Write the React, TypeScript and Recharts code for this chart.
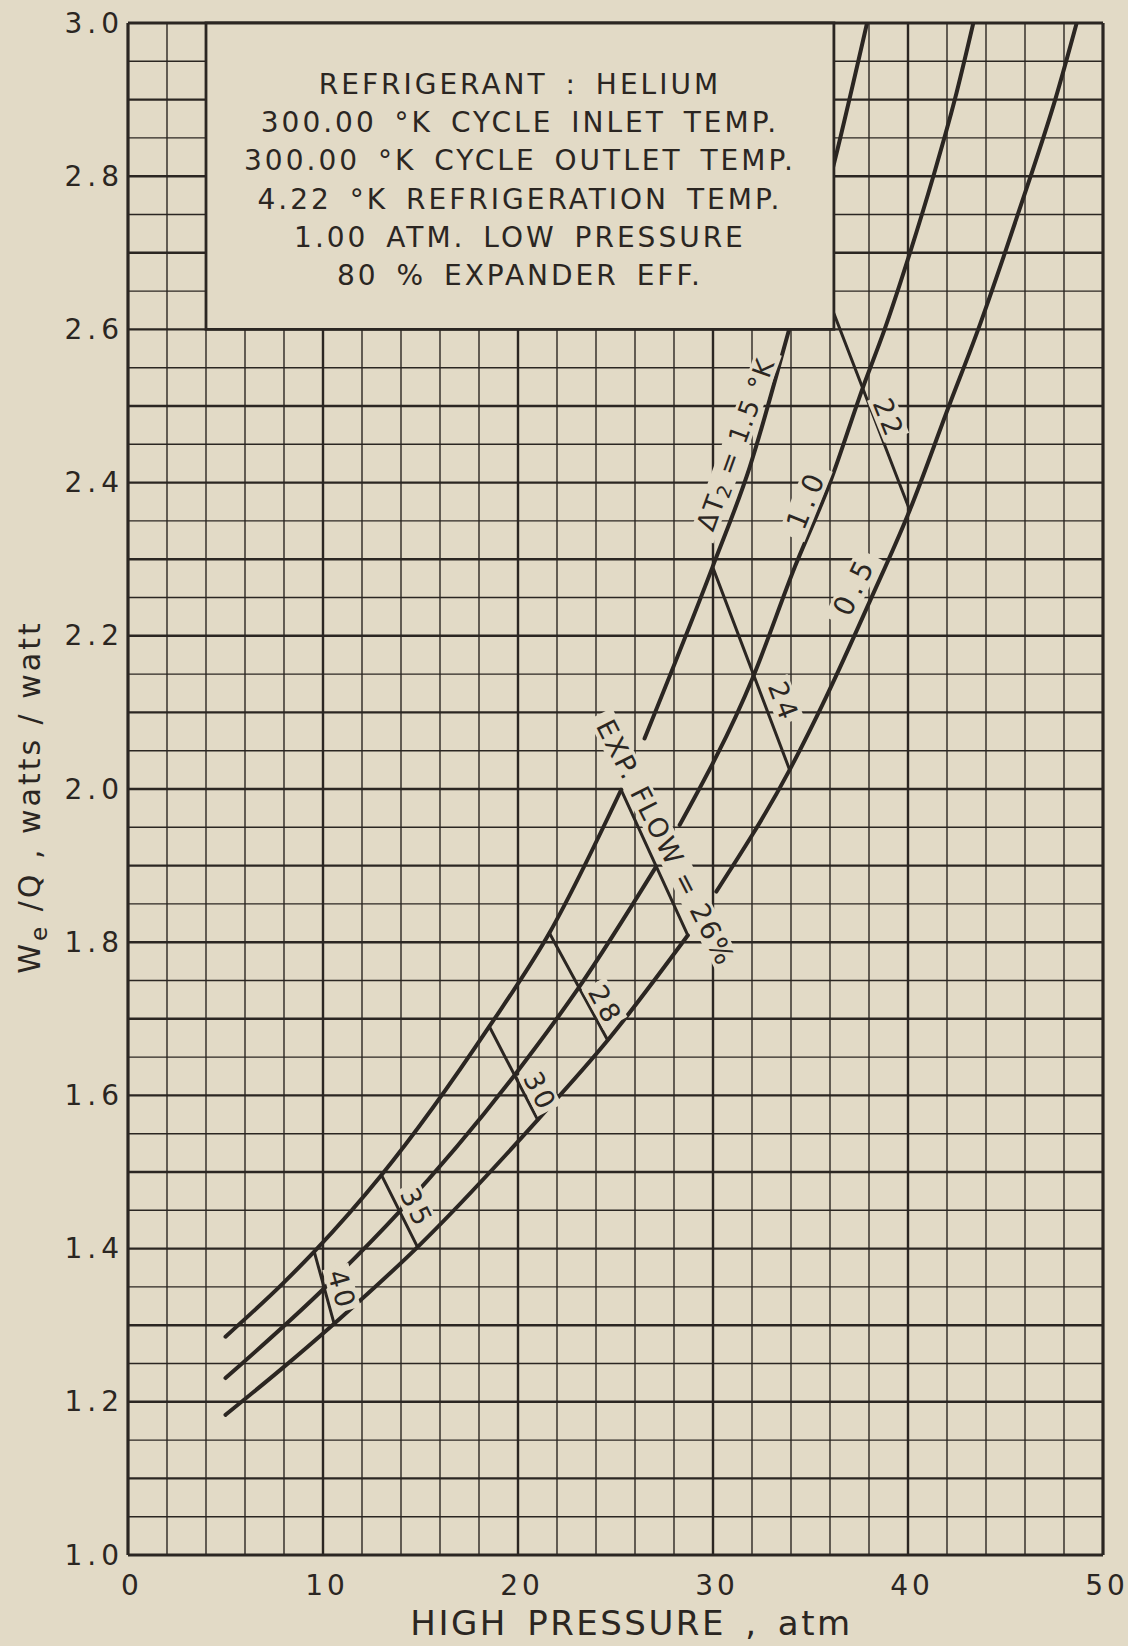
import React from "react";
import {
  ComposedChart,
  Line,
  XAxis,
  YAxis,
  ReferenceLine,
  ReferenceArea,
  ReferenceDot,
} from "recharts";

const FONT = '"DejaVu Sans", sans-serif';
const INK = "#2b2622";
const PAPER = "#e2dac6";

// axis ticks
const xTickValues = [0, 10, 20, 30, 40, 50];
const yTickValues = [1.0, 1.2, 1.4, 1.6, 1.8, 2.0, 2.2, 2.4, 2.6, 2.8, 3.0];

// graph paper rulings (every 2 atm, every 0.05)
const xRulings = Array.from({ length: 26 }, (_, i) => i * 2);
const yRulings = Array.from({ length: 41 }, (_, i) => Math.round((1 + i * 0.05) * 100) / 100);

// dT2 = 1.5 K curve (broken by the EXP. FLOW label)
const dt15LoX = [5, 7.92, 9.55, 13.0, 18.53, 21.61, 25.29];
const dt15LoY = [1.285, 1.354, 1.396, 1.496, 1.69, 1.812, 1.999];
const dt15HiX = [26.49, 29.98, 31.88, 33.85, 36.24, 37.9];
const dt15HiY = [2.066, 2.29, 2.42, 2.595, 2.82, 3.0];

// dT2 = 1.0 K curve
const dt10LoX = [5, 9.97, 13.91, 19.9, 23.15, 27.09];
const dt10LoY = [1.231, 1.346, 1.448, 1.629, 1.742, 1.899];
const dt10HiX = [28.29, 32.05, 34.2, 36.0, 37.7, 38.8, 40.1, 41.3, 42.4, 43.35];
const dt10HiY = [1.953, 2.146, 2.29, 2.4, 2.525, 2.6, 2.7, 2.8, 2.9, 3.0];

// dT2 = 0.5 K curve
const dt05LoX = [5, 7.92, 10.57, 14.85, 21.01, 24.6, 28.71];
const dt05LoY = [1.183, 1.244, 1.302, 1.402, 1.568, 1.672, 1.809];
const dt05HiX = [30.17, 33.93, 35.8, 38.04, 40.09, 42.1, 43.6, 44.97, 46.29, 47.55, 48.65];
const dt05HiY = [1.866, 2.025, 2.12, 2.245, 2.364, 2.5, 2.6, 2.7, 2.8, 2.9, 3.0];

// constant expander flow lines (%), from the 1.5 curve down to the 0.5 curve
const flowPct = [40, 35, 30, 28, 26, 24, 22];
const flowTopX = [9.55, 13.0, 18.53, 21.61, 25.29, 29.98, 35.0];
const flowTopY = [1.396, 1.496, 1.69, 1.812, 1.999, 2.29, 2.7];
const flowBotX = [10.57, 14.85, 21.01, 24.6, 28.71, 33.93, 40.09];
const flowBotY = [1.302, 1.402, 1.568, 1.672, 1.809, 2.025, 2.364];

const boxLines = [
  "REFRIGERANT : HELIUM",
  "300.00 °K CYCLE INLET TEMP.",
  "300.00 °K CYCLE OUTLET TEMP.",
  "4.22 °K REFRIGERATION TEMP.",
  "1.00 ATM. LOW PRESSURE",
  "80 % EXPANDER EFF.",
];

const pts = (xs: number[], ys: number[]) => xs.map((x, i) => ({ x, y: ys[i] }));

type Tag = {
  x: number;
  y: number;
  angle: number;
  text: React.ReactNode;
  len: number;
  fs?: number;
  ls?: number;
};

const tags: Tag[] = [
  { x: 10.95, y: 1.348, angle: 74, text: "40", len: 2 },
  { x: 14.77, y: 1.455, angle: 64, text: "35", len: 2 },
  { x: 21.1, y: 1.607, angle: 63, text: "30", len: 2 },
  { x: 24.44, y: 1.72, angle: 61, text: "28", len: 2 },
  { x: 27.55, y: 1.931, angle: 63, text: "EXP. FLOW = 26%", len: 15, fs: 27, ls: 2 },
  { x: 33.59, y: 2.116, angle: 69, text: "24", len: 2 },
  { x: 38.98, y: 2.486, angle: 68, text: "22", len: 2 },
  {
    x: 31.15,
    y: 2.449,
    angle: -70,
    text: (
      <>
        ΔT
        <tspan dy={5} fontSize={19}>
          2
        </tspan>
        <tspan dy={-5}> = 1.5 °K</tspan>
      </>
    ),
    len: 11,
    fs: 26,
    ls: 1.5,
  },
  { x: 34.75, y: 2.375, angle: -68, text: "1.0", len: 3, fs: 28, ls: 6 },
  { x: 37.2, y: 2.262, angle: -64, text: "0.5", len: 3, fs: 28, ls: 6 },
];

const tagShape = (t: Tag) => (p: any) => {
  const fs = t.fs ?? 27;
  const ls = t.ls ?? 3;
  const w = t.len * (fs * 0.62 + ls) + 6;
  return (
    <g transform={`translate(${p.cx},${p.cy}) rotate(${t.angle})`}>
      <rect x={-w / 2} y={-fs * 0.5} width={w} height={fs} fill={PAPER} />
      <text
        x={ls / 2}
        y={0}
        textAnchor="middle"
        dominantBaseline="central"
        fontSize={fs}
        letterSpacing={ls}
        fill={INK}
        fontFamily={FONT}
      >
        {t.text}
      </text>
    </g>
  );
};

const YTick = (p: any) => (
  <text
    x={p.x - 4}
    y={p.y}
    textAnchor="end"
    dominantBaseline="central"
    fontSize={28}
    letterSpacing={5}
    fill={INK}
    fontFamily={FONT}
  >
    {Number(p.payload.value).toFixed(1)}
  </text>
);

const XTick = (p: any) => (
  <text
    x={p.x + 4}
    y={p.y + 30}
    textAnchor="middle"
    dominantBaseline="central"
    fontSize={28}
    letterSpacing={4}
    fill={INK}
    fontFamily={FONT}
  >
    {p.payload.value}
  </text>
);

const XTitle = (p: any) => {
  const vb = p.viewBox;
  return (
    <text
      x={vb.x + vb.width / 2 + 16}
      y={vb.y + 80}
      textAnchor="middle"
      fontSize={34}
      letterSpacing={2.5}
      wordSpacing={6}
      fill={INK}
      fontFamily={FONT}
    >
      HIGH PRESSURE , atm
    </text>
  );
};

const YTitle = (p: any) => {
  const vb = p.viewBox;
  const cx = vb.x + 12;
  const cy = vb.y + vb.height / 2 + 8;
  return (
    <text
      transform={`rotate(-90 ${cx} ${cy})`}
      x={cx}
      y={cy}
      textAnchor="middle"
      fontSize={30}
      letterSpacing={3}
      fill={INK}
      fontFamily={FONT}
    >
      W
      <tspan dy={7} fontSize={23}>
        e
      </tspan>
      <tspan dy={-7}> /Q , watts / watt</tspan>
    </text>
  );
};

const BoxText = (p: any) => {
  const vb = p.viewBox;
  const cx = vb.x + vb.width / 2;
  return (
    <g>
      {boxLines.map((s, i) => (
        <text
          key={s}
          x={cx}
          y={vb.y + 71 + i * 38.2}
          textAnchor="middle"
          fontSize={28}
          letterSpacing={3}
          wordSpacing={6}
          fill={INK}
          fontFamily={FONT}
        >
          {s}
        </text>
      ))}
    </g>
  );
};

const curve = (xs: number[], ys: number[], key: string) => (
  <Line
    key={key}
    data={pts(xs, ys)}
    dataKey="y"
    type="monotone"
    stroke={INK}
    strokeWidth={4}
    strokeLinecap="round"
    dot={false}
    activeDot={false}
    isAnimationActive={false}
    zIndex={400}
  />
);

export default function App() {
  return (
    <div
      style={{
        position: "absolute",
        left: 0,
        top: 0,
        width: 1128,
        height: 1646,
        background: PAPER,
      }}
    >
      <ComposedChart
        width={1128}
        height={1646}
        margin={{ top: 23, right: 25, bottom: 31, left: 28 }}
      >
        <XAxis
          type="number"
          dataKey="x"
          domain={[0, 50]}
          ticks={xTickValues}
          allowDataOverflow
          axisLine={false}
          tickLine={false}
          tickSize={0}
          tickMargin={0}
          height={60}
          tick={XTick}
          label={XTitle}
        />
        <YAxis
          type="number"
          domain={[1, 3]}
          ticks={yTickValues}
          allowDataOverflow
          axisLine={false}
          tickLine={false}
          tickSize={0}
          tickMargin={0}
          width={100}
          tick={YTick}
          label={YTitle}
        />

        {xRulings.map((v) => (
          <ReferenceLine
            key={`gx${v}`}
            x={v}
            stroke={INK}
            strokeWidth={v === 0 || v === 50 ? 3.2 : v % 10 === 0 ? 2.4 : 1.4}
            zIndex={50}
          />
        ))}
        {yRulings.map((v) => (
          <ReferenceLine
            key={`gy${v}`}
            y={v}
            stroke={INK}
            strokeWidth={
              v === 1 || v === 3 ? 3.2 : Math.round(v * 100) % 10 === 0 ? 2.4 : 1.4
            }
            zIndex={50}
          />
        ))}

        {curve(dt15LoX, dt15LoY, "a1")}
        {curve(dt15HiX, dt15HiY, "a2")}
        {curve(dt10LoX, dt10LoY, "b1")}
        {curve(dt10HiX, dt10HiY, "b2")}
        {curve(dt05LoX, dt05LoY, "c1")}
        {curve(dt05HiX, dt05HiY, "c2")}

        {flowPct.map((f, i) => (
          <Line
            key={`flow${f}`}
            data={[
              { x: flowTopX[i], y: flowTopY[i] },
              { x: flowBotX[i], y: flowBotY[i] },
            ]}
            dataKey="y"
            type="linear"
            stroke={INK}
            strokeWidth={3}
            strokeLinecap="round"
            dot={false}
            activeDot={false}
            isAnimationActive={false}
            zIndex={410}
          />
        ))}

        {tags.map((t, i) => (
          <ReferenceDot
            key={`tag${i}`}
            x={t.x}
            y={t.y}
            r={0}
            shape={tagShape(t)}
            zIndex={700}
          />
        ))}

        <ReferenceArea
          x1={4}
          x2={36.2}
          y1={2.6}
          y2={3.0}
          fill={PAPER}
          fillOpacity={1}
          stroke={INK}
          strokeWidth={2.8}
          zIndex={900}
          label={BoxText}
        />
      </ComposedChart>
    </div>
  );
}
